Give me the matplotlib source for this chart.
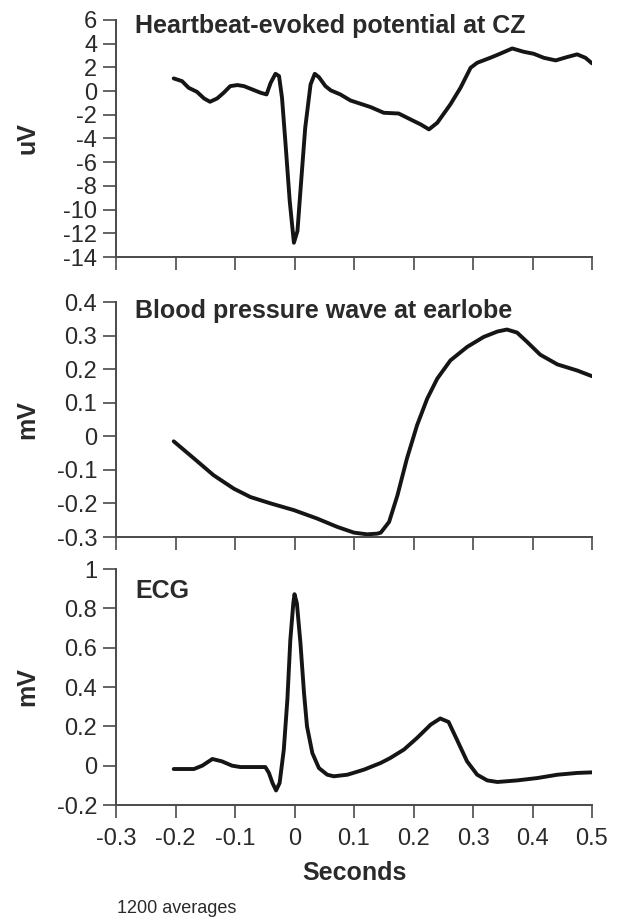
import numpy as np
import matplotlib
matplotlib.use('Agg')
import matplotlib.pyplot as plt
from matplotlib.ticker import FuncFormatter

plt.rcParams['font.family'] = ['Liberation Sans', 'DejaVu Sans']
plt.rcParams['axes.unicode_minus'] = False

# 心跳诱发电位 (uV)
hep_t = [-0.203, -0.189, -0.178, -0.164, -0.152, -0.142, -0.130, -0.119, -0.108, -0.096,
         -0.085, -0.071, -0.057, -0.047, -0.040, -0.032, -0.026, -0.021, -0.015, -0.008,
         -0.001, 0.005, 0.010, 0.018, 0.027, 0.034, 0.041, 0.052, 0.061, 0.077,
         0.094, 0.111, 0.128, 0.150, 0.175, 0.195, 0.212, 0.226, 0.240, 0.262,
         0.279, 0.296, 0.307, 0.329, 0.343, 0.366, 0.385, 0.402, 0.419, 0.439,
         0.458, 0.475, 0.489, 0.500]
hep_v = [1.07, 0.84, 0.28, -0.06, -0.62, -0.90, -0.62, -0.14, 0.42, 0.51,
         0.42, 0.14, -0.14, -0.28, 0.70, 1.46, 1.27, -0.56, -4.5, -9.3,
         -12.8, -11.8, -8.4, -3.1, 0.56, 1.46, 1.18, 0.42, 0.06, -0.28,
         -0.79, -1.07, -1.35, -1.83, -1.89, -2.39, -2.81, -3.23, -2.67, -1.12,
         0.28, 1.97, 2.39, 2.81, 3.10, 3.60, 3.32, 3.15, 2.81, 2.59,
         2.87, 3.10, 2.81, 2.34]

# 耳垂血压波 (mV)
bp_t = [-0.203, -0.169, -0.136, -0.102, -0.074, -0.040, -0.001, 0.038, 0.072, 0.100,
        0.122, 0.139, 0.145, 0.159, 0.173, 0.189, 0.206, 0.223, 0.240, 0.262,
        0.290, 0.318, 0.341, 0.357, 0.374, 0.391, 0.413, 0.442, 0.475, 0.500]
bp_v = [-0.015, -0.066, -0.116, -0.156, -0.181, -0.200, -0.220, -0.245, -0.270, -0.287,
        -0.292, -0.290, -0.287, -0.255, -0.176, -0.066, 0.033, 0.112, 0.172, 0.226,
        0.266, 0.296, 0.312, 0.318, 0.309, 0.281, 0.243, 0.214, 0.196, 0.179]

# 心电图 (mV)
ecg_t = [-0.203, -0.169, -0.155, -0.138, -0.122, -0.105, -0.091, -0.049, -0.043, -0.037,
         -0.031, -0.025, -0.018, -0.012, -0.007, -0.002, 0.000, 0.004, 0.010, 0.016,
         0.021, 0.030, 0.041, 0.055, 0.066, 0.089, 0.117, 0.145, 0.161, 0.184,
         0.206, 0.229, 0.245, 0.259, 0.273, 0.290, 0.307, 0.324, 0.341, 0.374,
         0.408, 0.442, 0.475, 0.500]
ecg_v = [-0.017, -0.017, 0.000, 0.034, 0.022, 0.000, -0.007, -0.007, -0.037, -0.088,
         -0.126, -0.088, 0.081, 0.335, 0.640, 0.826, 0.872, 0.826, 0.623, 0.369,
         0.200, 0.064, -0.012, -0.046, -0.054, -0.046, -0.020, 0.014, 0.039, 0.082,
         0.141, 0.209, 0.240, 0.222, 0.132, 0.022, -0.046, -0.075, -0.083, -0.075,
         -0.063, -0.046, -0.037, -0.034]

x_ticks = [-0.3, -0.2, -0.1, 0, 0.1, 0.2, 0.3, 0.4, 0.5]

panels = [
    (hep_t, hep_v, 'Heartbeat-evoked potential at CZ', (-14, 6), np.arange(-14, 7, 2), 0.945),
    (bp_t, bp_v, 'Blood pressure wave at earlobe', (-0.3, 0.4), np.arange(-3, 5) / 10, 0.932),
    (ecg_t, ecg_v, 'ECG', (-0.2, 1.0), np.arange(-1, 6) / 5, 0.877),
]
ylabels = ['uV', 'mV', 'mV']
# 坐标轴位置 (像素 -> 比例)
boxes = [(20, 257), (302, 537), (569, 805)]

W, H = 618, 921
fig = plt.figure(figsize=(W / 100, H / 100), dpi=100)
fmt = FuncFormatter(lambda v, p: f"{round(v, 2) + 0.0:g}")
axes_color = '#4a4a4a'
text_color = '#2a2a2a'

for i, (t, v, title, ylim, yt, ty) in enumerate(panels):
    top, bot = boxes[i]
    ax = fig.add_axes([116 / W, 1 - bot / H, 476 / W, (bot - top) / H])
    ax.plot(t, v, color='#151515', lw=2.8, solid_joinstyle='round', solid_capstyle='round')
    ax.set_xlim(-0.3, 0.5)
    ax.set_ylim(*ylim)
    ax.set_xticks(x_ticks)
    ax.set_yticks(yt)
    ax.xaxis.set_major_formatter(fmt)
    ax.yaxis.set_major_formatter(fmt)
    for s in ['top', 'right']:
        ax.spines[s].set_visible(False)
    for s in ['left', 'bottom']:
        ax.spines[s].set_color(axes_color)
        ax.spines[s].set_linewidth(1.4)
    ax.tick_params(direction='out', length=9.5, width=1.2, color=axes_color,
                   labelsize=17, labelcolor=text_color)
    ax.tick_params(axis='y', pad=4)
    ax.tick_params(axis='x', pad=7)
    if i < 2:
        ax.tick_params(labelbottom=False)
    ax.patch.set_visible(False)
    ax.text(0.04, ty, title, transform=ax.transAxes, fontsize=18, fontweight='bold',
            color=text_color, va='baseline', ha='left')
    fig.text(27 / W, 1 - (top + bot) / 2 / H, ylabels[i], rotation=90, fontsize=18,
             fontweight='bold', color=text_color, ha='center', va='center')

fig.text(354 / W, 1 - 873 / H, 'Seconds', fontsize=18, fontweight='bold',
         color=text_color, ha='center', va='center')
fig.text(117 / W, 1 - 908 / H, '1200 averages', fontsize=13, color=text_color,
         ha='left', va='center')

fig.savefig('out.png', dpi=100, facecolor='white')
